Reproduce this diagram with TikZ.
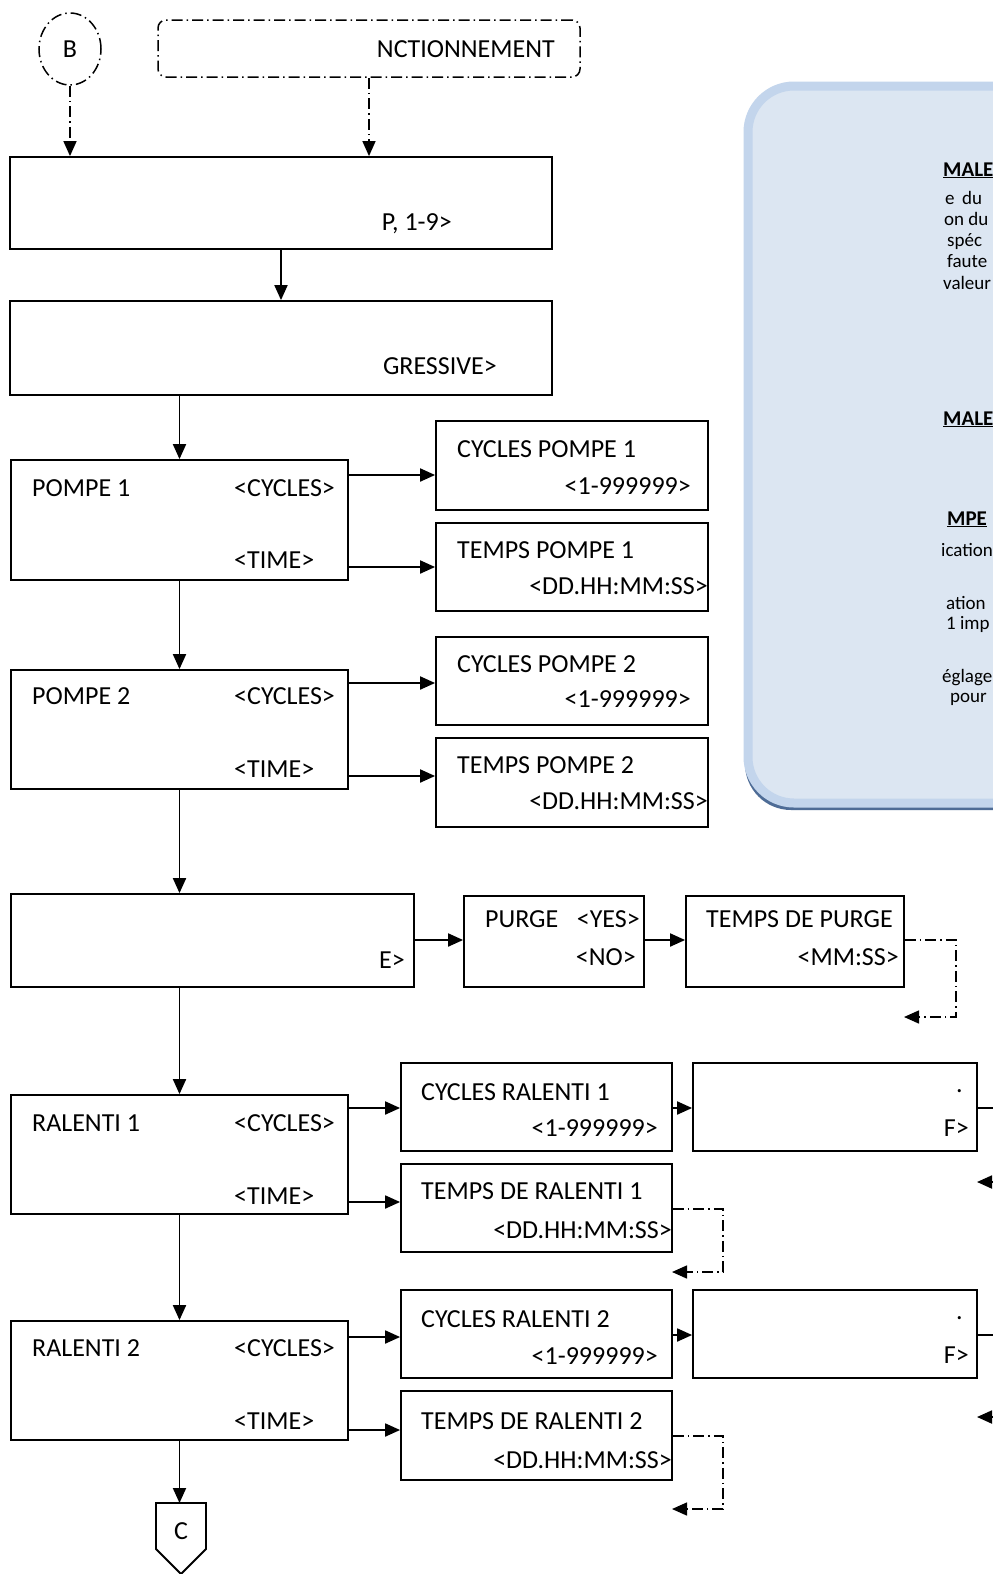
\documentclass[tikz,border=0pt]{standalone}
\usepackage{fontspec}
\setmainfont{Carlito}
\usetikzlibrary{arrows.meta,shapes.geometric}
\definecolor{panelfill}{HTML}{DCE6F2}
\definecolor{panelline}{HTML}{C3D5EC}
\definecolor{panelshadow}{HTML}{4E6C96}
\tikzset{
  box/.style={draw, line width=1.8pt, rectangle, inner sep=0pt},
  lbl/.style={inner sep=0pt, font=\fontsize{26}{30}\selectfont},
  note/.style={inner sep=0pt, anchor=base west, font=\fontsize{19}{22}\selectfont},
  head/.style={inner sep=0pt, anchor=base west, font=\fontsize{21}{24}\selectfont\bfseries},
  arr/.style={line width=1.9pt, -{Triangle[length=15pt,width=13pt]}},
  dashdot/.style={line width=1.5pt, dash pattern=on 11pt off 4pt on 1.5pt off 4pt},
  dda/.style={dashdot, -{Triangle[length=15pt,width=13pt]}},
}
\begin{document}
\begin{tikzpicture}[x=1pt,y=-1pt]
\clip (0,0) rectangle (993,1574);
\fill[white] (0,0) rectangle (993,1574);

% information panel on the right
\fill[panelshadow, rounded corners=46pt] (745,86) rectangle (1060,810);
\draw[panelline, line width=9pt, fill=panelfill, rounded corners=46pt] (748,86) rectangle (1060,803);
\node[head] (h1) at (943,176) {\underline{MALE}};
\node[note] (n1) at (945,204) {e \,du};
\node[note] (n2) at (944,225) {on du};
\node[note] (n3) at (947,246) {spéc};
\node[note] (n4) at (947,267) {faute};
\node[note] (n5) at (943,289) {valeur};
\node[head] (h2) at (943,425) {\underline{MALE}};
\node[head] (h3) at (947,525) {\underline{MPE}};
\node[note] (n6) at (941,556) {ication};
\node[note] (n7) at (946,609) {ation};
\node[note] (n8) at (946,629) {1 imp};
\node[note] (n9) at (942,682) {églage};
\node[note] (n10) at (950,702) {pour};

% entry connector and function header
\node[draw, ellipse, dashdot, minimum width=62pt, minimum height=72pt, inner sep=0pt] (B) at (70,49) {};
\node[lbl] (Bt) at (70,49) {B};
\node[draw, dashdot, rounded corners=8pt, minimum width=422pt, minimum height=57pt, inner sep=0pt] (fn) at (369,48.5) {};
\node[lbl, anchor=base east] (fnt) at (555,57) {NCTIONNEMENT};

% main column
\node[box, minimum width=542pt, minimum height=92pt] (b1) at (281,203) {};
\node[lbl, anchor=base east] (b1t) at (452,230) {P, 1-9>};
\node[box, minimum width=542pt, minimum height=94pt] (b2) at (281,348) {};
\node[lbl, anchor=base east] (b2t) at (497,374) {GRESSIVE>};

\node[box, minimum width=337pt, minimum height=120pt] (p1) at (179.5,520) {};
\node[lbl, anchor=base west] (p1a) at (32,496) {POMPE 1};
\node[lbl, anchor=base west] (p1b) at (234,496) {<CYCLES>};
\node[lbl, anchor=base west] (p1c) at (234,568) {<TIME>};

\node[box, minimum width=337pt, minimum height=119pt] (p2) at (179.5,729.5) {};
\node[lbl, anchor=base west] (p2a) at (32,704) {POMPE 2};
\node[lbl, anchor=base west] (p2b) at (234,704) {<CYCLES>};
\node[lbl, anchor=base west] (p2c) at (234,777) {<TIME>};

\node[box, minimum width=403pt, minimum height=93pt] (pp) at (212.5,940.5) {};
\node[lbl, anchor=base east] (ppt) at (405,968) {E>};

\node[box, minimum width=337pt, minimum height=119pt] (r1) at (179.5,1154.5) {};
\node[lbl, anchor=base west] (r1a) at (32,1131) {RALENTI 1};
\node[lbl, anchor=base west] (r1b) at (234,1131) {<CYCLES>};
\node[lbl, anchor=base west] (r1c) at (234,1204) {<TIME>};

\node[box, minimum width=337pt, minimum height=119pt] (r2) at (179.5,1380.5) {};
\node[lbl, anchor=base west] (r2a) at (32,1356) {RALENTI 2};
\node[lbl, anchor=base west] (r2b) at (234,1356) {<CYCLES>};
\node[lbl, anchor=base west] (r2c) at (234,1429) {<TIME>};

% off-page connector C
\coordinate (ctop) at (181,1503);
\draw[line width=1.8pt] (156,1503) -- (206,1503) -- (206,1549) -- (181,1574) -- (156,1549) -- cycle;
\node[lbl] (Ct) at (181,1531) {C};

% pump boxes
\node[box, minimum width=272pt, minimum height=89pt] (cp1) at (572,465.5) {};
\node[lbl, anchor=base west] (cp1a) at (457,457) {CYCLES POMPE 1};
\node[lbl, anchor=base east] (cp1b) at (691,494) {<1-999999>};
\node[box, minimum width=272pt, minimum height=88pt] (tp1) at (572,567) {};
\node[lbl, anchor=base west] (tp1a) at (457,558) {TEMPS POMPE 1};
\node[lbl, anchor=base east] (tp1b) at (708,594) {<DD.HH:MM:SS>};
\node[box, minimum width=272pt, minimum height=88pt] (cp2) at (572,681) {};
\node[lbl, anchor=base west] (cp2a) at (457,672) {CYCLES POMPE 2};
\node[lbl, anchor=base east] (cp2b) at (691,707) {<1-999999>};
\node[box, minimum width=272pt, minimum height=89pt] (tp2) at (572,782.5) {};
\node[lbl, anchor=base west] (tp2a) at (457,773) {TEMPS POMPE 2};
\node[lbl, anchor=base east] (tp2b) at (708,809) {<DD.HH:MM:SS>};

% purge boxes
\node[box, minimum width=180pt, minimum height=91pt] (pg) at (554,941.5) {};
\node[lbl, anchor=base west] (pga) at (485,927) {PURGE};
\node[lbl, anchor=base east] (pgb) at (640,927) {<YES>};
\node[lbl, anchor=base east] (pgc) at (636,965) {<NO>};
\node[box, minimum width=218pt, minimum height=91pt] (tdp) at (795,941.5) {};
\node[lbl, anchor=base west] (tdpa) at (706,927) {TEMPS DE PURGE};
\node[lbl, anchor=base east] (tdpb) at (899,965) {<MM:SS>};

% idle boxes
\node[box, minimum width=271pt, minimum height=88pt] (cr1) at (536.5,1107) {};
\node[lbl, anchor=base west] (cr1a) at (421,1100) {CYCLES RALENTI 1};
\node[lbl, anchor=base east] (cr1b) at (658,1136) {<1-999999>};
\node[box, minimum width=284pt, minimum height=88pt] (f1) at (835,1107) {};
\node[lbl, anchor=base east] (f1a) at (963,1092) {.};
\node[lbl, anchor=base east] (f1b) at (969,1136) {F>};
\node[box, minimum width=271pt, minimum height=88pt] (tr1) at (536.5,1208) {};
\node[lbl, anchor=base west] (tr1a) at (421,1199) {TEMPS DE RALENTI 1};
\node[lbl, anchor=base east] (tr1b) at (672,1238) {<DD.HH:MM:SS>};

\node[box, minimum width=271pt, minimum height=88pt] (cr2) at (536.5,1334) {};
\node[lbl, anchor=base west] (cr2a) at (421,1327) {CYCLES RALENTI 2};
\node[lbl, anchor=base east] (cr2b) at (658,1364) {<1-999999>};
\node[box, minimum width=284pt, minimum height=88pt] (f2) at (835,1334) {};
\node[lbl, anchor=base east] (f2a) at (963,1319) {.};
\node[lbl, anchor=base east] (f2b) at (969,1363) {F>};
\node[box, minimum width=271pt, minimum height=89pt] (tr2) at (536.5,1435.5) {};
\node[lbl, anchor=base west] (tr2a) at (421,1429) {TEMPS DE RALENTI 2};
\node[lbl, anchor=base east] (tr2b) at (672,1468) {<DD.HH:MM:SS>};

% free ends of connectors
\coordinate (purgeret) at (904,1017);
\coordinate (r1ret) at (672,1272);
\coordinate (r2ret) at (672,1509);
\coordinate (f1out) at (996,1108);
\coordinate (f2out) at (996,1335);
\coordinate (in1) at (996,1182);
\coordinate (in1tip) at (977,1182);
\coordinate (in2) at (996,1417);
\coordinate (in2tip) at (977,1417);

% connectors
\draw[dda] (B.south) -- (B.south |- b1.north);
\draw[dda] (fn.south) -- (fn.south |- b1.north);
\draw[arr] (b1.south) -- (b2.north);
\draw[arr] (p1.north |- b2.south) -- (p1.north);
\draw[arr] (p1.south) -- (p2.north);
\draw[arr] (p2.south) -- (p2.south |- pp.north);
\draw[arr] (p2.south |- pp.south) -- (r1.north);
\draw[arr] (r1.south) -- (r2.north);
\draw[arr] (r2.south) -- (r2.south |- ctop);

\draw[arr] (p1.east |- 0,475) -- (cp1.west |- 0,475);
\draw[arr] (p1.east |- 0,567) -- (tp1.west |- 0,567);
\draw[arr] (p2.east |- 0,683) -- (cp2.west |- 0,683);
\draw[arr] (p2.east |- 0,776) -- (tp2.west |- 0,776);

\draw[arr] (pp.east |- 0,940) -- (pg.west |- 0,940);
\draw[arr] (pg.east |- 0,940) -- (tdp.west |- 0,940);
\draw[dda] (tdp.east |- 0,940) -- (956,940) -- (956,1017) -- (purgeret);

\draw[arr] (r1.east |- 0,1108) -- (cr1.west |- 0,1108);
\draw[arr] (r1.east |- 0,1202) -- (tr1.west |- 0,1202);
\draw[arr] (cr1.east |- 0,1108) -- (f1.west |- 0,1108);
\draw[line width=1.6pt] (f1.east |- f1out) -- (f1out);
\draw[arr] (in1) -- (in1tip);
\draw[dda] (tr1.east |- 0,1209) -- (723,1209) -- (723,1272) -- (r1ret);

\draw[arr] (r2.east |- 0,1337) -- (cr2.west |- 0,1337);
\draw[arr] (r2.east |- 0,1430) -- (tr2.west |- 0,1430);
\draw[arr] (cr2.east |- 0,1335) -- (f2.west |- 0,1335);
\draw[line width=1.6pt] (f2.east |- f2out) -- (f2out);
\draw[arr] (in2) -- (in2tip);
\draw[dda] (tr2.east |- 0,1436) -- (723,1436) -- (723,1509) -- (r2ret);
\end{tikzpicture}
\end{document}
